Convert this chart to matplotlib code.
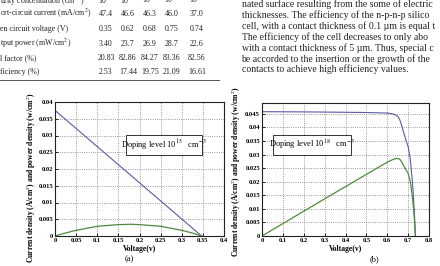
import numpy as np
import matplotlib.pyplot as plt
from matplotlib.patches import Rectangle
from matplotlib.ticker import FuncFormatter, MultipleLocator

plt.rcParams['font.family'] = ['Liberation Serif', 'DejaVu Serif']
plt.rcParams['mathtext.fontset'] = 'stix'

# ---- table values (top left, partly cut off in the page crop)
row_labels = ['urity concentration (cm$^{-3}$)', 'ort-circuit current (mA/cm$^{2}$)',
              'en circuit voltage (V)', 'tput power (mW/cm$^{2}$)',
              'l factor (%)', 'ficiency (%)']
concentrations = ['10$^{15}$', '10$^{16}$', '10$^{17}$', '10$^{18}$', '10$^{19}$']
short_circuit = ['47.4', '46.6', '46.3', '46.0', '37.0']
open_voltage = ['0.35', '0.62', '0.68', '0.75', '0.74']
out_power = ['3.40', '23.7', '26.9', '28.7', '22.6']
fill_factor = ['20.83', '82.86', '84.27', '83.36', '82.56']
efficiency = ['2.53', '17.44', '19.75', '21.09', '16.61']

paragraph = [
    'nated surface resulting from the some of electric',
    'thicknesses. The efficiency of the n-p-n-p silico',
    'cell, with a contact thickness of 0.1 \u00b5m is equal t',
    'The efficiency of the cell decreases to only abo',
    'with a contact thickness of 5 \u00b5m. Thus, special c',
    'be accorded to the insertion or the growth of the',
    'contacts to achieve high efficiency values.',
]

# ---- plot (a): doping 10^15
volt_a_j = [0, 0.347]
curr_a = [0.0375, 0.0]
volt_a_p = [0, 0.025, 0.05, 0.1, 0.15, 0.18, 0.2, 0.25, 0.3, 0.325, 0.347]
power_a = [0, 0.0009, 0.0017, 0.0029, 0.0034, 0.0035, 0.0034, 0.0029, 0.0017, 0.0009, 0]

# ---- plot (b): doping 10^18
volt_b = [0, 0.25, 0.5, 0.6, 0.62, 0.64, 0.65, 0.66, 0.67, 0.68, 0.69, 0.70, 0.71, 0.72, 0.725, 0.73, 0.735]
curr_b = [0.0458, 0.0457, 0.0455, 0.0453, 0.0451, 0.0446, 0.0441, 0.0428, 0.0405, 0.0378, 0.0352, 0.0330, 0.0285, 0.0205, 0.0150, 0.0085, 0.0]
volt_b_p = [0, 0.3, 0.6, 0.63, 0.645, 0.66, 0.67, 0.68, 0.69, 0.70, 0.71, 0.72, 0.725, 0.73, 0.735]
power_b = [0, 0.0137, 0.0272, 0.0283, 0.0286, 0.0283, 0.0272, 0.0257, 0.0243, 0.0231, 0.0202, 0.0148, 0.0109, 0.0062, 0]

W, H = 440, 266
fig = plt.figure(figsize=(W / 100, H / 100), dpi=100)


def fx(x):
    return x / W


def fy(y):
    return 1 - y / H


# table text
rows = [concentrations, short_circuit, open_voltage, out_power, fill_factor, efficiency]
row_y = [4, 16.5, 31, 45.5, 60, 74]
col_x = [106, 128, 150, 172, 197]
for lab, vals, y in zip(row_labels, rows, row_y):
    fig.text(fx(0), fy(y), lab, fontsize=5.7, ha='left', va='baseline', color='#222222')
    for v, x in zip(vals, col_x):
        fig.text(fx(x), fy(y), v, fontsize=5.7, ha='center', va='baseline', color='#222222')
fig.add_artist(plt.Line2D([0, fx(219)], [fy(79.5), fy(79.5)], color='#555555', lw=0.7))

# paragraph at the right
for i, line in enumerate(paragraph):
    fig.text(fx(241.5), fy(7 + i * 10.9), line, fontsize=7.0, ha='left', va='baseline', color='#222222')

tick_fmt = FuncFormatter(lambda v, p: '%g' % round(v, 4))
blue = '#5a5aa8'
green = '#4f8a3c'


def style(ax, xmax, xstep, ymax):
    ax.set_xlim(0, xmax)
    ax.set_ylim(0, ymax)
    ax.xaxis.set_major_locator(MultipleLocator(xstep))
    ax.yaxis.set_major_locator(MultipleLocator(0.005))
    ax.xaxis.set_major_formatter(tick_fmt)
    ax.yaxis.set_major_formatter(tick_fmt)
    ax.grid(True, linestyle=':', color='#777777', linewidth=0.6)
    ax.tick_params(direction='in', length=2, width=0.6, labelsize=4.7, pad=1.5)
    for lab in ax.get_xticklabels() + ax.get_yticklabels():
        lab.set_fontweight('bold')
    for s in ax.spines.values():
        s.set_linewidth(0.8)
        s.set_color('#222222')
    ax.set_xlabel('Voltage(v)', fontsize=5.5, fontweight='bold', labelpad=1.5)


def doping_box(ax, x0, y0, x1, y1, label):
    ax.add_patch(Rectangle((x0, y0), x1 - x0, y1 - y0, transform=ax.transAxes,
                           fc='white', ec='#333333', lw=0.7, zorder=4))
    ax.text((x0 + x1) / 2, (y0 + y1) / 2, label, transform=ax.transAxes,
            fontsize=6.0, ha='center', va='center', zorder=5)


# (a)
ax1 = fig.add_axes([fx(55), fy(236), fx(224 - 55), (236 - 102) / H])
ax1.plot(volt_a_j, curr_a, color=blue, lw=0.8)
ax1.plot(volt_a_p, power_a, color=green, lw=0.9)
style(ax1, 0.4, 0.05, 0.04)
doping_box(ax1, 0.42, 0.604, 0.87, 0.754, 'Doping level 10$^{15}$   cm$^{-3}$')
fig.text(fx(31), fy(178), 'Current density (A/cm$^{2}$) and power density (w/cm$^{2}$)',
         rotation=90, fontsize=5.5, fontweight='bold', ha='center', va='center')
fig.text(fx(129), fy(259), '(a)', fontsize=6, ha='center', va='center')

# (b)
ax2 = fig.add_axes([fx(262), fy(236), fx(429 - 262), (236 - 103) / H])
ax2.plot(volt_b, curr_b, color=blue, lw=0.8)
ax2.plot(volt_b_p, power_b, color=green, lw=0.9)
style(ax2, 0.8, 0.1, 0.049)
doping_box(ax2, 0.066, 0.609, 0.533, 0.759, 'Doping level 10$^{18}$   cm$^{-3}$')
fig.text(fx(236), fy(172), 'Current density (A/cm$^{2}$) and power density (w/cm$^{2}$)',
         rotation=90, fontsize=5.5, fontweight='bold', ha='center', va='center')
fig.text(fx(374), fy(259), '(b)', fontsize=6, ha='center', va='center')

fig.savefig('out.png', dpi=100)
